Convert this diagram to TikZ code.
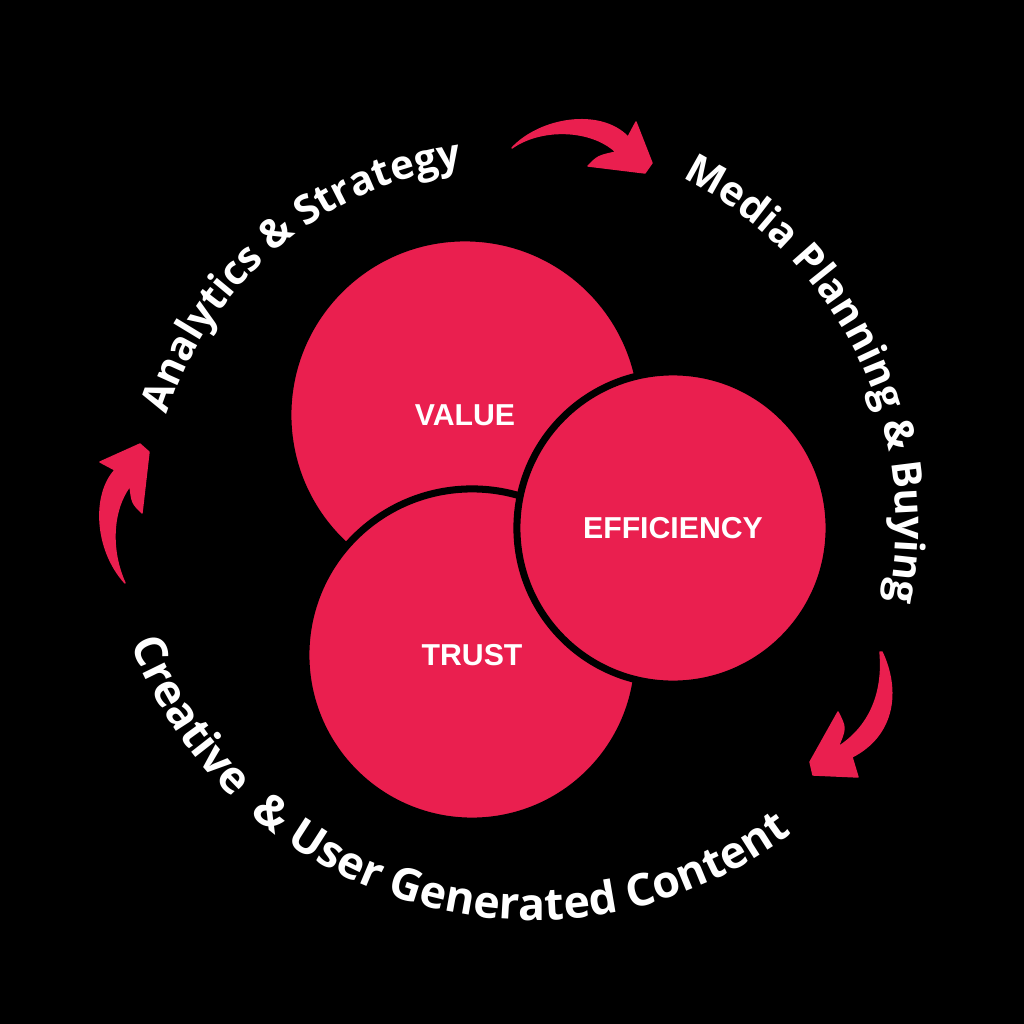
\documentclass[tikz,border=0pt]{standalone}
\usepackage{fontspec}
\usepackage{tikz}
\usetikzlibrary{decorations.text}
\setmainfont{Open Sans}
\newfontfamily\labelfont{Liberation Sans}
\definecolor{brandred}{RGB}{234,31,79}
\newcommand\ringfont[1]{\bfseries\fontsize{#1}{#1}\selectfont}

\begin{document}
\begin{tikzpicture}[
        x=0.01cm, y=-0.01cm,
        bubble/.style={circle, draw=black, line width=2pt, fill=brandred, text=white,
                       inner sep=0pt, font=\labelfont\bfseries\fontsize{8.6}{10}\selectfont},
        curl/.style={fill=brandred, draw=brandred, line width=0.4pt, line join=round},
        ringtext/.style={decorate, decoration={text along path, text align=center,
                         text color=white, text={#1}}},
      ]
      \fill[black] (0,0) rectangle (1024,1024);
      \useasboundingbox (0,0) rectangle (1024,1024);

      % the three overlapping circles
      \node[bubble, minimum size=3.54cm] (value) at (465,415) {VALUE};
      \node[bubble, minimum size=3.32cm] (trust) at (472,655) {TRUST};
      \node[bubble, minimum size=3.12cm] (efficiency) at (673,528) {EFFICIENCY};

      % text round the ring
      \path[ringtext={|\ringfont{11.5}|Analytics {\&} Strategy}]
        (510,524) ++(-175:360) arc[start angle=-175, end angle=-85, radius=360];
      \path[ringtext={|\ringfont{11.6}|Media Planning {\&} Buying}]
        (510,524) ++(-76:386) arc[start angle=-76, end angle=24, radius=386];
      \path[ringtext={|\ringfont{12.7}|Creative {\ }{\&} User Generated Content}]
        (533,489) ++(166:431) arc[start angle=166, end angle=46, radius=431];

      % curled arrows
      \fill[curl] (512,148) .. controls (540,118) and (600,108) .. (628,137)
        -- (636,122) -- (652,163) -- (645,173) -- (588,166)
        .. controls (598,156) .. (616,152)
        .. controls (590,128) and (540,128) .. (512,148) -- cycle;
      \fill[curl] (882,652) .. controls (900,690) and (895,735) .. (852,757)
        -- (858,777) -- (813,775) -- (810,762) -- (838,712)
        .. controls (846,728) .. (838,747)
        .. controls (868,728) and (884,695) .. (880,652) -- cycle;
      \fill[curl] (125,583) .. controls (95,550) and (92,495) .. (115,470)
        -- (100,462) -- (140,444) -- (149,452) -- (142,513)
        .. controls (132,503) .. (130,486)
        .. controls (112,510) and (110,550) .. (125,583) -- cycle;
\end{tikzpicture}
\end{document}
